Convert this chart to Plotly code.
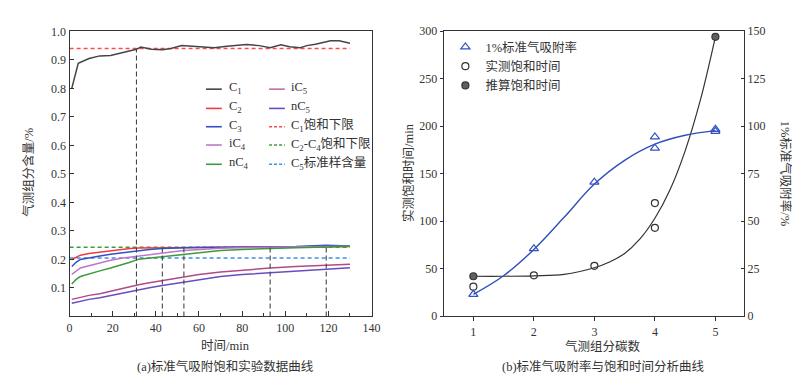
import plotly.graph_objects as go

# ---------------- panel (a) data ----------------
time_c1 = [1, 4, 9, 14, 19, 25, 31, 33, 38, 43, 47, 52, 58, 67, 73, 82, 88, 93, 98, 102, 107, 110, 114, 121, 125, 130]
c1 = [0.800, 0.888, 0.905, 0.914, 0.915, 0.925, 0.937, 0.945, 0.937, 0.936, 0.940, 0.950, 0.948, 0.943,
      0.948, 0.954, 0.950, 0.943, 0.953, 0.946, 0.943, 0.950, 0.955, 0.967, 0.967, 0.958]

time = [1, 3, 5, 9, 14, 19, 24, 28, 32, 37, 43, 48, 53, 60, 70, 80, 93, 105, 119, 130]
c2 = [0.200, 0.208, 0.215, 0.221, 0.226, 0.230, 0.235, 0.238, 0.240, 0.240, 0.241, 0.241, 0.242, 0.242,
      0.243, 0.244, 0.244, 0.244, 0.245, 0.245]
c3 = [0.175, 0.190, 0.200, 0.206, 0.212, 0.218, 0.223, 0.227, 0.231, 0.235, 0.238, 0.240, 0.241, 0.242,
      0.243, 0.244, 0.245, 0.245, 0.250, 0.247]
ic4 = [0.148, 0.160, 0.170, 0.178, 0.188, 0.197, 0.204, 0.208, 0.213, 0.218, 0.223, 0.227, 0.231, 0.235,
       0.239, 0.241, 0.243, 0.244, 0.245, 0.246]
nc4 = [0.114, 0.130, 0.140, 0.150, 0.160, 0.170, 0.180, 0.190, 0.201, 0.205, 0.210, 0.214, 0.218, 0.224,
       0.231, 0.235, 0.239, 0.241, 0.244, 0.246]
ic5 = [0.060, 0.064, 0.068, 0.074, 0.080, 0.089, 0.096, 0.103, 0.111, 0.118, 0.126, 0.132, 0.139, 0.147,
       0.156, 0.163, 0.170, 0.175, 0.180, 0.183]
nc5 = [0.046, 0.050, 0.054, 0.060, 0.066, 0.074, 0.081, 0.088, 0.094, 0.101, 0.109, 0.115, 0.121, 0.130,
       0.140, 0.147, 0.154, 0.160, 0.166, 0.171]

limit_span = [0, 130]
c1_limit = 0.94
c2c4_limit = 0.243
c5_std = 0.205

sat_times = [31, 43, 53, 93, 119]
sat_tops = [0.94, 0.241, 0.243, 0.245, 0.245]

x_ticks_a = [0, 20, 40, 60, 80, 100, 120, 140]
x_minor_a = [10, 30, 50, 70, 90, 110, 130]
y_ticks_a = [0.1, 0.2, 0.3, 0.4, 0.5, 0.6, 0.7, 0.8, 0.9, 1.0]

# ---------------- panel (b) data ----------------
ads_x = [1, 2, 3, 4, 4, 5, 5]
ads_rate = [11.5, 35.5, 70.5, 94.3, 88.4, 98.3, 97.2]
meas_x = [1, 2, 3, 4, 4]
meas_time = [31, 43, 53, 119, 93]
est_x = [1, 5]
est_time = [42, 294]

fit_time_x = [1, 1.5, 2, 2.5, 3, 3.25, 3.5, 3.75, 4, 4.25, 4.5, 4.75, 5]
fit_time_y = [42, 42, 42.5, 44, 51, 57, 66, 81, 103, 133, 174, 227, 294]
fit_rate_x = [1, 1.5, 2, 2.5, 3, 3.5, 4, 4.5, 5]
fit_rate_y = [11.5, 21.3, 35.1, 52, 69.5, 82, 90.5, 95.2, 97.6]

x_ticks_b = [1, 2, 3, 4, 5]
y_ticks_b = [0, 50, 100, 150, 200, 250, 300]
y2_ticks_b = [0, 25, 50, 75, 100, 125, 150]

FONT = "Liberation Serif, Noto Sans CJK SC"
W, H = 800, 380


def px(x):
    return x / W


def py(y):
    return 1 - y / H


fig = go.Figure()

series = [
    ("C1", time_c1, c1, "#454545"),
    ("C2", time, c2, "#f23b3b"),
    ("C3", time, c3, "#3450c4"),
    ("iC4", time, ic4, "#c274cc"),
    ("nC4", time, nc4, "#3c9c3c"),
    ("iC5", time, ic5, "#b04a88"),
    ("nC5", time, nc5, "#6a4cc0"),
]
legend_a_col1 = [("C<sub>1</sub>", "#454545", "solid"), ("C<sub>2</sub>", "#f23b3b", "solid"),
                 ("C<sub>3</sub>", "#3450c4", "solid"), ("iC<sub>4</sub>", "#c274cc", "solid"),
                 ("nC<sub>4</sub>", "#3c9c3c", "solid")]
legend_a_col2 = [("iC<sub>5</sub>", "#c070a8", "solid"), ("nC<sub>5</sub>", "#6a4cc0", "solid"),
                 ("C<sub>1</sub>饱和下限", "#ff4a4a", "dash"),
                 ("C<sub>2</sub>-C<sub>4</sub>饱和下限", "#3c9c3c", "dash"),
                 ("C<sub>5</sub>标准样含量", "#3f8fe8", "dash")]

# limit lines
for val, col in [(c1_limit, "#ff4a4a"), (c2c4_limit, "#3c9c3c"), (c5_std, "#3f8fe8")]:
    fig.add_trace(go.Scatter(x=limit_span, y=[val, val], mode="lines", xaxis="x", yaxis="y",
                             line=dict(color=col, width=1.6, dash="4px,3px"), showlegend=False,
                             hoverinfo="skip"))

for name, tx, ty, col in series:
    fig.add_trace(go.Scatter(x=tx, y=ty, mode="lines", name=name, xaxis="x", yaxis="y",
                             line=dict(color=col, width=1.5), showlegend=False))

# saturation time markers (vertical dashed)
for t, top in zip(sat_times, sat_tops):
    fig.add_trace(go.Scatter(x=[t, t], y=[0, top], mode="lines", xaxis="x", yaxis="y",
                             line=dict(color="#444444", width=1.1, dash="5px,3px"), showlegend=False,
                             hoverinfo="skip"))

# panel (b)
fig.add_trace(go.Scatter(x=fit_rate_x, y=fit_rate_y, mode="lines", xaxis="x2", yaxis="y3",
                         line=dict(color="#2f4fb8", width=1.4, shape="spline"), showlegend=False))
fig.add_trace(go.Scatter(x=fit_time_x, y=fit_time_y, mode="lines", xaxis="x2", yaxis="y2",
                         line=dict(color="#333333", width=1.2, shape="spline"), showlegend=False))
fig.add_trace(go.Scatter(x=ads_x, y=ads_rate, mode="markers", name="1%标准气吸附率", xaxis="x2", yaxis="y3",
                         marker=dict(symbol="triangle-up-open", size=8, color="#3450c4",
                                     line=dict(width=1.2, color="#3450c4"))))
fig.add_trace(go.Scatter(x=meas_x, y=meas_time, mode="markers", name="实测饱和时间", xaxis="x2", yaxis="y2",
                         marker=dict(symbol="circle-open", size=7, color="#333333",
                                     line=dict(width=1.2, color="#333333"))))
fig.add_trace(go.Scatter(x=est_x, y=est_time, mode="markers", name="推算饱和时间", xaxis="x2", yaxis="y2",
                         marker=dict(symbol="circle", size=7, color="#606060",
                                     line=dict(width=1.2, color="#333333"))))

axis_common = dict(showline=True, linecolor="#333333", linewidth=1.3, showgrid=False, zeroline=False,
                   tickfont=dict(family=FONT, size=12, color="#333333"), tickcolor="#333333")

fig.update_layout(
    width=W, height=H,
    margin=dict(l=0, r=0, t=0, b=0),
    paper_bgcolor="white", plot_bgcolor="white",
    font=dict(family=FONT, size=12, color="#333333"),
    xaxis=dict(domain=[px(59.5), px(366)], range=[0, 140], anchor="y", mirror=True,
               tickvals=x_ticks_a, ticks="inside", ticklen=5,
               minor=dict(tickvals=x_minor_a, ticks="inside", ticklen=3, tickcolor="#333333"),
               **axis_common),
    yaxis=dict(domain=[py(313), py(17)], range=[0, 1.0], anchor="x", mirror=True,
               tickvals=y_ticks_a, tickformat=".1f", ticks="inside", ticklen=4, **axis_common),
    xaxis2=dict(domain=[px(439.3), px(744)], range=[0.51, 5.47], anchor="y2", mirror=True,
                tickvals=x_ticks_b, ticks="outside", ticklen=4, **axis_common),
    yaxis2=dict(domain=[py(312.7), py(16.7)], range=[0, 300], anchor="x2", mirror=True,
                tickvals=y_ticks_b, ticks="outside", ticklen=3, **axis_common),
    yaxis3=dict(range=[0, 150], overlaying="y2", anchor="x2", side="right",
                tickvals=y2_ticks_b, ticks="inside", ticklen=3, **axis_common),
    legend=dict(x=px(441), y=py(18), xanchor="left", yanchor="top", bgcolor="rgba(0,0,0,0)",
                font=dict(family=FONT, size=12.5, color="#333333"), itemwidth=30),
    showlegend=True,
)

annotations = []
shapes = []
rows = [77, 97, 116, 135, 155]
for (label, col, dash), yrow in zip(legend_a_col1, rows):
    shapes.append(dict(type="line", xref="paper", yref="paper", x0=px(198), x1=px(214), y0=py(yrow), y1=py(yrow),
                       line=dict(color=col, width=1.6)))
    annotations.append(dict(text=label, xref="paper", yref="paper", x=px(219), y=py(yrow - 1), xanchor="left",
                            yanchor="middle", showarrow=False, font=dict(family=FONT, size=12.5, color="#333333")))
for (label, col, dash), yrow in zip(legend_a_col2, rows):
    shapes.append(dict(type="line", xref="paper", yref="paper", x0=px(262), x1=px(278), y0=py(yrow), y1=py(yrow),
                       line=dict(color=col, width=1.6, dash="3px,2px" if dash == "dash" else "solid")))
    annotations.append(dict(text=label, xref="paper", yref="paper", x=px(282), y=py(yrow - 1), xanchor="left",
                            yanchor="middle", showarrow=False, font=dict(family=FONT, size=12.5, color="#333333")))

text_items = [
    ("气测组分含量/%", 18, 163, -90),
    ("时间/min", 218, 344, 0),
    ("(a)标准气吸附饱和实验数据曲线", 218, 365, 0),
    ("实测饱和时间/min", 404, 163, -90),
    ("1%标准气吸附率/%", 786, 165, 90),
    ("气测组分碳数", 601, 344, 0),
    ("(b)标准气吸附率与饱和时间分析曲线", 602, 365, 0),
]
for txt, x, y, ang in text_items:
    annotations.append(dict(text=txt, xref="paper", yref="paper", x=px(x), y=py(y), xanchor="center",
                            yanchor="middle", showarrow=False, textangle=ang,
                            font=dict(family=FONT, size=12.5, color="#333333")))

fig.update_layout(annotations=annotations, shapes=shapes)
fig.write_html("out.html")
